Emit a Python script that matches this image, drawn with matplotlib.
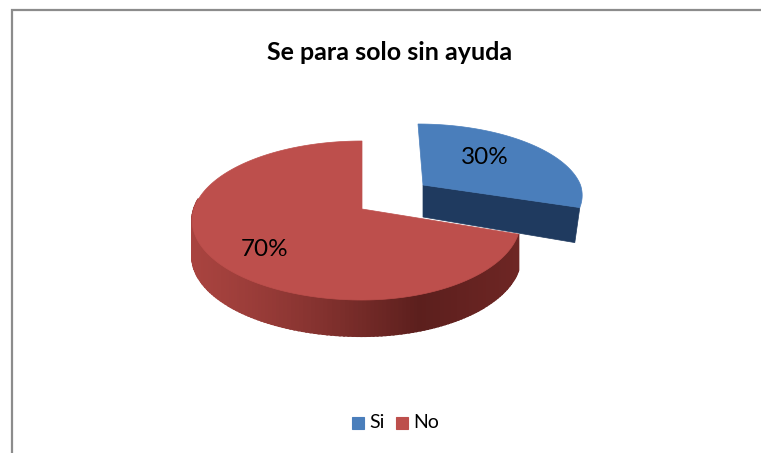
import numpy as np
import matplotlib
matplotlib.use("Agg")
import matplotlib.pyplot as plt
from matplotlib.patches import Rectangle

categories = ["Si", "No"]
values = [30, 70]
value_labels = ["30%", "70%"]
title = "Se para solo sin ayuda"

SLICE_COLORS = ["#4a7ebb", "#bd4f4c"]
BLUE_CUT = "#1f3a5f"
FRAME = "#8c8c8c"
FONT = ["Lato", "DejaVu Sans"]

# perspective strength of the tilted pie
K = 0.1447


def rim(theta, x0, y0, left, right, back, lean=0.0):
    # theta is clockwise from 12 o'clock, radians
    u, v = np.sin(theta), np.cos(theta)
    w = 1 + K * v
    a = np.where(u < 0, left, right)
    x = x0 + a * u / w + lean * np.clip(v, 0, 1)
    y = y0 - back * (1 + K) * v / w
    return x, y


def lerp_color(c1, c2, t):
    c1 = np.array(matplotlib.colors.to_rgb(c1))
    c2 = np.array(matplotlib.colors.to_rgb(c2))
    return c1 + (c2 - c1) * t


fig = plt.figure(figsize=(7.61, 4.53), dpi=100)
ax = fig.add_axes([0, 0, 1, 1])
ax.set_xlim(0, 761)
ax.set_ylim(453, 0)
ax.axis("off")

# chart border, only top and left show
ax.plot([11.5, 11.5, 761], [453, 10, 10], color=FRAME, lw=1.6, solid_joinstyle="miter")

fracs = np.array(values) / sum(values)
split = 2 * np.pi * fracs[0]

# Si slice, pulled out of the pie
t_blue = np.linspace(0, split, 80)
bx, by = rim(t_blue, 423, 185, 157, 157.5, 61, lean=-5)
depth_b = 35
ax.fill([bx[-1], 423, 423, bx[-1] - 5], [by[-1], 185, 185 + depth_b - 3, by[-1] + depth_b],
        color=BLUE_CUT, lw=0.5, zorder=2)
ax.fill(np.r_[423, bx], np.r_[185, by], color=SLICE_COLORS[0], lw=0.5, zorder=3)

# No slice side wall, dark towards the front right
t_red = np.linspace(split, 2 * np.pi, 200)
rx, ry = rim(t_red, 362, 209, 168, 157, 68)
depth_r = 36
for i in range(len(t_red) - 1):
    if ry[i] < 200:
        continue
    pos = np.clip((rx[i] - 192) / (420 - 192), 0, 1)
    col = lerp_color("#a8433f", "#5c1f1d", pos ** 1.3)
    if rx[i] > 420:
        col = lerp_color("#5c1f1d", "#6e2624", (rx[i] - 420) / 100)
    ax.fill([rx[i], rx[i + 1], rx[i + 1], rx[i]],
            [ry[i], ry[i + 1], ry[i + 1] + depth_r, ry[i] + depth_r],
            color=col, lw=1.5, zorder=4)

# No slice top
ax.fill(np.r_[362, rx], np.r_[209, ry], color=SLICE_COLORS[1], lw=0.5, zorder=5)

# labels
ax.text(485, 157, value_labels[0], fontsize=17.5, family=FONT, ha="center", va="center", color="black", zorder=6)
ax.text(265, 250, value_labels[1], fontsize=17.5, family=FONT, ha="center", va="center", color="black", zorder=6)

ax.text(390, 53, title, fontsize=18, fontweight="bold", family=FONT, ha="center", va="center", color="black")

# legend
leg_x = [352, 396]
for name, col, lx in zip(categories, SLICE_COLORS, leg_x):
    ax.add_patch(Rectangle((lx, 417), 12, 12, facecolor=col, edgecolor=col, lw=0.8))
    ax.text(lx + 17, 422.5, name, fontsize=14, family=FONT, ha="left", va="center", color="black")

fig.savefig("out.png", dpi=100)
